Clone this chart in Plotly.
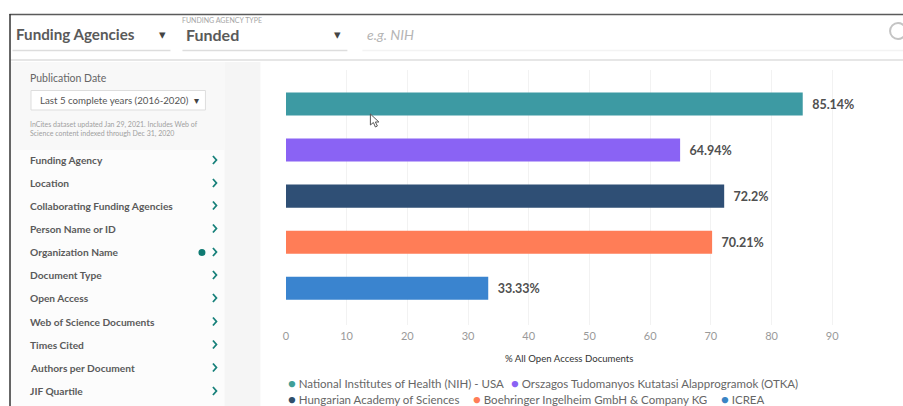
import plotly.graph_objects as go

W, H = 903, 406
agencies = ["National Institutes of Health (NIH) - USA", "Orszagos Tudomanyos Kutatasi Alapprogramok (OTKA)",
            "Hungarian Academy of Sciences", "Boehringer Ingelheim GmbH & Company KG", "ICREA"]
values = [85.14, 64.94, 72.2, 70.21, 33.33]
value_labels = ["85.14%", "64.94%", "72.2%", "70.21%", "33.33%"]
colors = ["#3d9aa3", "#8a63f4", "#2f4f75", "#ff7d57", "#3a84cf"]
dot_colors = ["#3f9f98", "#8a63f4", "#2f4f6b", "#ff7d57", "#3a84c4"]
x_ticks = [0, 10, 20, 30, 40, 50, 60, 70, 80, 90]
filters = ["Funding Agency", "Location", "Collaborating Funding Agencies", "Person Name or ID",
           "Organization Name", "Document Type", "Open Access", "Web of Science Documents",
           "Times Cited", "Authors per Document", "JIF Quartile"]
filter_y = [160, 183, 205.5, 228.5, 252, 275, 298, 321.5, 344.5, 367.5, 391]
FONT = "Lato"


def px(x):
    return (x - 2.5 * max(0, 1 - x / 830)) / W


def py(y):
    return 1 - y / H


fig = go.Figure()
for name, v, lab, c in zip(agencies, values, value_labels, colors):
    fig.add_trace(go.Bar(x=[v], y=[name], orientation="h", name=name, marker=dict(color=c, line=dict(width=0)),
                         text=[f"\u00a0\u00a0<b>{lab}</b>"], textposition="outside", cliponaxis=False,
                         textfont=dict(family=FONT, size=12.5, color="#505050"), width=0.5, showlegend=False))

shapes = []


def rect(x0, y0, x1, y1, fill, line=None, layer="below"):
    shapes.append(dict(type="rect", xref="paper", yref="paper", x0=px(x0), x1=px(x1), y0=py(y0), y1=py(y1),
                       fillcolor=fill, line=dict(color=line or fill, width=1 if line else 0), layer=layer))


def hline(x0, x1, y, color, width=1):
    shapes.append(dict(type="line", xref="paper", yref="paper", x0=px(x0), x1=px(x1), y0=py(y), y1=py(y),
                       line=dict(color=color, width=width), layer="below"))


rect(10, 62, 224, 150, "#f8f8f8")
rect(10, 150, 224, 406, "#fcfcfc")
rect(224, 62, 260, 406, "#f5f5f5")
hline(9, 903, 14.5, "#5a5a5a", 1.5)
shapes.append(dict(type="line", xref="paper", yref="paper", x0=px(9.5), x1=px(9.5), y0=py(14), y1=py(406),
                   line=dict(color="#333333", width=1.5)))
hline(12, 170, 50.5, "#dddddd", 1.5)
hline(182, 347, 50.5, "#dddddd", 1.5)
hline(362, 903, 50.5, "#f3f3f3", 1.5)
hline(10, 903, 60, "#e6e6e6", 2)
shapes.append(dict(type="rect", xref="paper", yref="paper", x0=px(30.5), x1=px(205), y0=py(90.5), y1=py(110),
                   fillcolor="#ffffff", line=dict(color="#dddddd", width=1), layer="below"))
shapes.append(dict(type="circle", xref="paper", yref="paper", x0=px(890), x1=px(906), y0=py(23), y1=py(39),
                   line=dict(color="#c4c4c4", width=2)))
shapes.append(dict(type="circle", xref="paper", yref="paper", x0=px(198), x1=px(205), y0=py(249), y1=py(256),
                   fillcolor="#0f7a72", line=dict(width=0)))
# mouse cursor
cx, cy = 370, 114
pts = [(0, 0), (0, 11), (3, 8.5), (5, 13), (7, 12), (5, 8), (8.5, 8)]
shapes.append(dict(type="path", xref="paper", yref="paper",
                   path="M " + " L ".join(f"{px(cx + a):.5f},{py(cy + b):.5f}" for a, b in pts) + " Z",
                   fillcolor="#ffffff", line=dict(color="#555555", width=1)))

ann = []


def text(x, y, s, size, color, anchor="left", bold=False):
    ann.append(dict(xref="paper", yref="paper", x=px(x), y=py(y), text=f"<b>{s}</b>" if bold else s,
                    showarrow=False, xanchor=anchor, yanchor="middle", align="left", borderpad=0,
                    font=dict(family=FONT, size=size, color=color)))


text(14, 34, "Funding Agencies", 15.2, "#5a5a5a", bold=True)
text(185, 34, "Funded", 16, "#5a5a5a", bold=True)
text(181, 20, "FUNDING AGENCY TYPE", 7, "#a5a5a5")
text(366, 34, "<i>e.g. NIH</i>", 14, "#b5b5b5")
text(158, 34, "▾", 13, "#444444")
text(333, 34, "▾", 13, "#444444")
text(193, 100, "▾", 10, "#444444")
text(29, 78, "Publication Date", 10.5, "#666666")
text(39, 100.5, "Last 5 complete years (2016-2020)", 9.7, "#555555")
text(29, 124, "InCites dataset updated Jan 29, 2021. Includes Web of", 7, "#a0a0a0")
text(29, 134, "Science content indexed through Dec 31, 2020", 7, "#a0a0a0")
for f, y in zip(filters, filter_y):
    text(29, y, f, 10.2, "#5a5a5a", bold=True)
    shapes.append(dict(type="path", xref="paper", yref="paper",
                       path=f"M {px(212.5):.5f},{py(y - 4):.5f} L {px(216):.5f},{py(y):.5f} L {px(212.5):.5f},{py(y + 4):.5f}",
                       line=dict(color="#17807a", width=1.8)))

text(569, 358, "% All Open Access Documents", 9.6, "#333333", anchor="center")
# legend entries
legend_x = [286.5, 510, 286.5, 472, 719.5]
legend_y = [383, 383, 398.5, 398.5, 398.5]
for name, c, x, y in zip(agencies, dot_colors, legend_x, legend_y):
    safe = name.replace("&", "&amp;")
    text(x, y, f'<span style="color:{c};font-size:13px">●</span> {safe}', 11.5, "#666666")

fig.update_layout(
    width=W, height=H, margin=dict(l=0, r=0, t=0, b=0), paper_bgcolor="#ffffff", plot_bgcolor="rgba(0,0,0,0)",
    barmode="overlay", showlegend=False, shapes=shapes, annotations=ann, font=dict(family=FONT),
    xaxis=dict(domain=[px(285.5), 892.9 / W], range=[0, 100], tickvals=x_ticks, showgrid=True, gridcolor="#f2f2f2",
               zeroline=False, showline=False, ticks="", tickfont=dict(family=FONT, size=11, color="#9a9a9a"), ticklabelstandoff=3),
    yaxis=dict(domain=[py(325), py(70)], categoryorder="array", categoryarray=agencies, range=[4.8, -0.74],
               showticklabels=False, showgrid=False, zeroline=False, showline=False, ticks=""),
)
fig.write_html("out.html", config=dict(displayModeBar=False), post_script="document.body.style.margin='0';")
